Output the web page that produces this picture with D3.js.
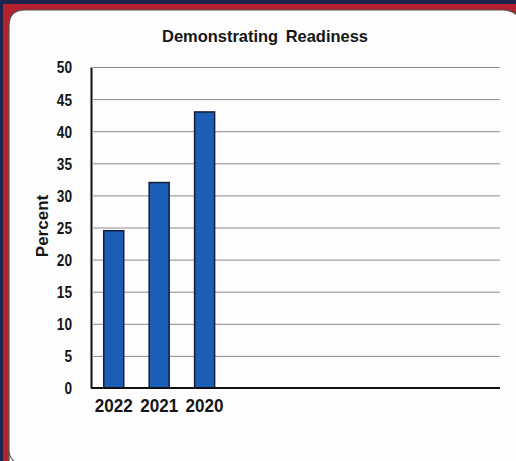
<!DOCTYPE html>
<html><head><meta charset="utf-8">
<script src="https://cdn.jsdelivr.net/npm/d3@7"></script>
<style>html,body{margin:0;padding:0;background:#fdfdfd;overflow:hidden;}</style>
</head><body>
<script>
const categories = ["2022", "2021", "2020"];
const values = [24.5, 32, 43];
const yTicks = [0, 5, 10, 15, 20, 25, 30, 35, 40, 45, 50];
const emptySlots = ["s4", "s5", "s6", "s7", "s8", "s9"];
const title = "Demonstrating Readiness";
const yLabel = "Percent";

const W = 516, H = 461;
const FONT = "Liberation Sans, Arial, sans-serif";
const svg = d3.select("body").append("svg").attr("width", W).attr("height", H)
  .style("display", "block");

// frame
svg.append("rect").attr("x", 0).attr("y", 0).attr("width", W).attr("height", H).attr("fill", "#1e2350");
svg.append("rect").attr("x", 3).attr("y", 4).attr("width", W).attr("height", H).attr("fill", "#b3222c");
svg.append("path").attr("fill", "#fdfdfd").attr("stroke", "#555").attr("stroke-width", 1.2)
  .attr("d", "M9,470 V26 Q9,10 25,10 H502 Q516,10 520,20 V470 Z");
svg.append("path").attr("fill", "none").attr("stroke", "#555").attr("stroke-width", 1.2)
  .attr("d", "M9,452 Q10,458 14,461");

const m = {left: 91, right: 500, top: 67, bottom: 388};
const x = d3.scaleBand().domain(categories.concat(emptySlots))
  .range([m.left, m.right]).paddingInner(0.56).paddingOuter(0.28);
const y = d3.scaleLinear().domain([0, 50]).range([m.bottom, m.top]);

// gridlines
const grid = d3.axisLeft(y).tickValues(yTicks.filter(d => d > 0)).tickSize(-(m.right - m.left - 2)).tickFormat("");
svg.append("g").attr("transform", `translate(${m.left + 2},0)`).call(grid)
  .call(g => g.select(".domain").remove())
  .call(g => g.selectAll("line").attr("stroke", "#8a8a8a").attr("stroke-width", 1));

// bars
svg.append("g").selectAll("rect").data(values).join("rect")
  .attr("x", (d, i) => x(categories[i]))
  .attr("y", d => y(d))
  .attr("width", x.bandwidth())
  .attr("height", d => y(0) - y(d))
  .attr("fill", "#1c5db5").attr("stroke", "#141c3a").attr("stroke-width", 1.5);

// y axis
const yAxis = d3.axisLeft(y).tickValues(yTicks).tickSize(0).tickPadding(19);
svg.append("g").attr("transform", `translate(${m.left},0)`).call(yAxis)
  .call(g => g.select(".domain").attr("stroke", "#111").attr("stroke-width", 2))
  .call(g => g.selectAll("text").attr("font-family", FONT)
    .attr("font-size", 16.5).attr("font-weight", "bold").attr("fill", "#161616").attr("dy", "0.36em")
    .attr("textLength", d => String(d).length * 7.6).attr("lengthAdjust", "spacingAndGlyphs"));

// x axis
const xAxis = d3.axisBottom(x).tickSize(0).tickPadding(12)
  .tickFormat(d => categories.includes(d) ? d : "");
svg.append("g").attr("transform", `translate(0,${m.bottom})`).call(xAxis)
  .call(g => g.select(".domain").attr("stroke", "#111").attr("stroke-width", 2.2).attr("d", `M${m.left},0H${m.right}`))
  .call(g => g.selectAll("text").attr("font-family", FONT)
    .attr("font-size", 17.5).attr("font-weight", "bold").attr("fill", "#161616")
    .attr("textLength", d => categories.includes(d) ? 38 : null).attr("lengthAdjust", "spacingAndGlyphs"));

// title
svg.append("text").attr("x", 265).attr("y", 42).attr("text-anchor", "middle")
  .attr("font-family", FONT).attr("font-size", 16.5)
  .attr("font-weight", "bold").attr("fill", "#161616").attr("word-spacing", 3)
  .attr("textLength", 206).attr("lengthAdjust", "spacingAndGlyphs").text(title);

// y label
svg.append("text").attr("transform", "translate(48,226) rotate(-90)").attr("text-anchor", "middle")
  .attr("font-family", FONT).attr("font-size", 17)
  .attr("font-weight", "bold").attr("fill", "#161616").text(yLabel);
</script>
</body></html>
